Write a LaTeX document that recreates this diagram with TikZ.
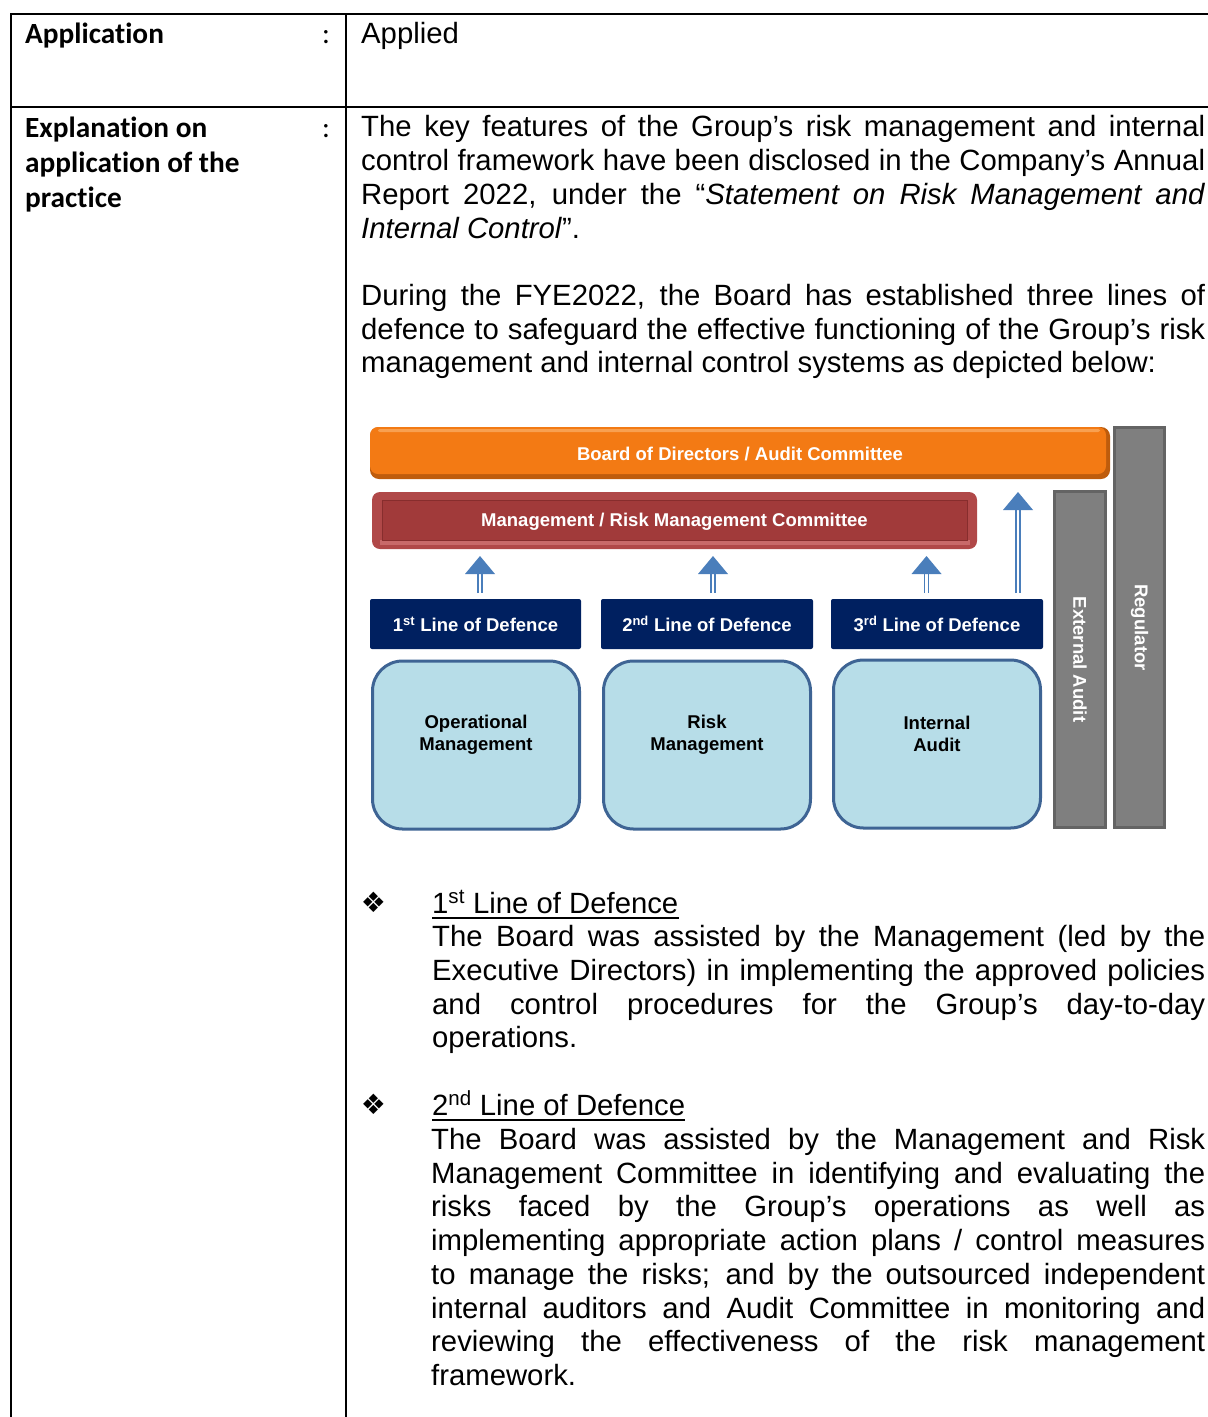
\documentclass[tikz,border=0pt]{standalone}
\usepackage{fontspec}
\setmainfont{Liberation Sans}
\newfontfamily\calib[Ligatures=NoCommon]{Carlito}
\newfontfamily\djv{DejaVu Sans}
\definecolor{cNavy}{RGB}{0,32,96}
\definecolor{cLB}{RGB}{183,221,232}
\definecolor{cLBb}{RGB}{62,100,148}
\definecolor{cGray}{RGB}{127,127,127}
\definecolor{cGrayb}{RGB}{100,100,100}
\definecolor{cArrow}{RGB}{74,126,187}
\definecolor{cOr}{RGB}{243,122,20}
\definecolor{cOrD}{RGB}{190,92,12}
\definecolor{cOrL}{RGB}{248,160,80}
\definecolor{cRed}{RGB}{161,58,58}
\definecolor{cRedO}{RGB}{176,72,72}
\definecolor{cRedD}{RGB}{135,45,45}
\definecolor{cRedL}{RGB}{200,105,105}
\newcommand\bodyfont{\fontsize{29.3}{33.75}\selectfont}
\newcommand\dgfont{\fontsize{18.5}{22}\selectfont\bfseries}
\newcommand\lcfont{\calib\fontsize{29.3}{35}\selectfont}
\begin{document}
\begin{tikzpicture}[x=1pt,y=-1pt,
  tbl/.style={line width=2.5pt, draw=black},
  txt/.style={anchor=base west, inner sep=0pt, font=\bodyfont},
  lcol/.style={anchor=base west, inner sep=0pt, font=\lcfont\bfseries},
  colon/.style={anchor=base, inner sep=0pt, font=\lcfont},
  navybox/.style={fill=cNavy, rounded corners=2pt, minimum width=211pt, minimum height=50pt, inner sep=0pt, text=white, font=\dgfont},
  bluebox/.style={fill=cLB, draw=cLBb, line width=3pt, rounded corners=30pt, minimum width=207pt, minimum height=168pt, inner sep=0pt},
  boxtext/.style={font=\dgfont, align=center, inner sep=0pt},
  graybar/.style={fill=cGray, draw=cGrayb, line width=3pt, inner sep=0pt},
  vtext/.style={rotate=-90, text=white, font=\dgfont, inner sep=0pt},
  bartext/.style={text=white, font=\dgfont, inner sep=0pt},
  shaft/.style={draw=cArrow, line width=1.6pt, double=white, double distance=2.5pt},
  head/.style={fill=cArrow},
  bul/.style={font=\djv\fontsize{28}{28}\selectfont, inner sep=0pt},
  uline/.style={line width=2.5pt}
]
\useasboundingbox (0,0) rectangle (1208,1417);
\fill[white] (0,0) rectangle (1208,1417);

% table rules
\draw[tbl] (10,14) -- (1208,14);
\draw[tbl] (10,107) -- (1208,107);
\draw[tbl] (11,13) -- (11,1417);
\draw[tbl] (346,13) -- (346,1417);

% left column
\node[lcol] (app) at (25,43) {Application};
\node[colon] (c1) at (326,43) {:};
\node[lcol] (ex1) at (25,137) {Explanation on};
\node[lcol] (ex2) at (25,172) {application of the};
\node[lcol] (ex3) at (25,207) {practice};
\node[colon] (c2) at (326,137) {:};

% right column text
\node[txt] (applied) at (361,43) {Applied};

\node[txt] (p1a) at (361,136) {\makebox[844pt][s]{The key features of the Group’s risk management and internal}};
\node[txt] (p1b) at (361,170) {\makebox[844pt][s]{control framework have been disclosed in the Company’s Annual}};
\node[txt] (p1c) at (361,204) {\makebox[844pt][s]{Report 2022, under the “\textit{Statement on Risk Management and}}};
\node[txt] (p1d) at (361,238) {\textit{Internal Control}”.};

\node[txt] (p2a) at (361,305) {\makebox[844pt][s]{During the FYE2022, the Board has established three lines of}};
\node[txt] (p2b) at (361,339) {\makebox[844pt][s]{defence to safeguard the effective functioning of the Group’s risk}};
\node[txt] (p2c) at (361,372) {management and internal control systems as depicted below:};

% ---------- diagram ----------
% orange bar
\fill[cOrD, rounded corners=9pt] (370,427) rectangle (1110,479);
\fill[cOr, rounded corners=8pt] (370,427) rectangle (1106,474);
\fill[cOrL, rounded corners=2pt] (378,429) rectangle (1100,432);
\node[bartext] (board) at (740,454) {Board of Directors / Audit Committee};

% red bar
\fill[cRedO, rounded corners=8pt] (372,492) rectangle (977,549);
\fill[cRedL] (380,540) rectangle (970,545);
\fill[cRed, draw=cRedD, line width=1pt] (382,500) rectangle (967,540);
\node[bartext] (mgmt) at (674.5,522) {Management / Risk Management Committee};

% gray bars
\node[graybar, minimum width=51pt, minimum height=336pt] (ext) at (1080,659.5) {};
\node[graybar, minimum width=50pt, minimum height=400pt] (reg) at (1139.5,627.5) {};
\node[vtext] (extt) at (ext.center) {External Audit};
\node[vtext] (regt) at (reg.center) {Regulator};

% lines of defence
\node[navybox] (l1) at (475.5,624) {1\textsuperscript{st} Line of Defence};
\node[navybox, minimum width=212pt] (l2) at (707,624) {2\textsuperscript{nd} Line of Defence};
\node[navybox, minimum width=212pt] (l3) at (937,624) {3\textsuperscript{rd} Line of Defence};

\node[bluebox] (op) at (476,745) {};
\node[bluebox] (rk) at (707,745) {};
\node[bluebox] (ia) at (937,744) {};
\node[boxtext] (opt) at ([yshift=10pt]op.center) {Operational\\Management};
\node[boxtext] (rkt) at ([yshift=10pt]rk.center) {Risk\\Management};
\node[boxtext] (iat) at ([yshift=10pt]ia.center) {Internal\\Audit};

% arrows
\coordinate (a1s) at (480,593);  \coordinate (a1e) at (480,556);
\coordinate (a2s) at (713,593);  \coordinate (a2e) at (713,556);
\coordinate (a3s) at (926.5,593); \coordinate (a3e) at (926.5,556);
\coordinate (a4s) at (1018,593); \coordinate (a4e) at (1018,492);
\foreach \a in {a1,a2,a3,a4}{
  \draw[shaft] (\a s) -- ([yshift=-17pt]\a e);
  \fill[head] (\a e) -- ++(-15,18) -- ++(30,0) -- cycle;
}

% ---------- bullets ----------
\node[bul] (bu1) at (373.5,902.5) {❖};
\node[txt] (h1) at (432,913) {1\textsuperscript{st} Line of Defence};
\draw[uline] ([yshift=-5pt]h1.base west) -- ([yshift=-5pt]h1.base east);
\node[txt] (b1a) at (432,946) {\makebox[773pt][s]{The Board was assisted by the Management (led by the}};
\node[txt] (b1b) at (432,980) {\makebox[773pt][s]{Executive Directors) in implementing the approved policies}};
\node[txt] (b1c) at (432,1014) {\makebox[773pt][s]{and control procedures for the Group’s day-to-day}};
\node[txt] (b1d) at (432,1047) {operations.};

\node[bul] (bu2) at (373.5,1104.5) {❖};
\node[txt] (h2) at (432,1115) {2\textsuperscript{nd} Line of Defence};
\draw[uline] ([yshift=-5pt]h2.base west) -- ([yshift=-5pt]h2.base east);
\node[txt] (b2a) at (431,1149) {\makebox[774pt][s]{The Board was assisted by the Management and Risk}};
\node[txt] (b2b) at (431,1183) {\makebox[774pt][s]{Management Committee in identifying and evaluating the}};
\node[txt] (b2c) at (431,1216) {\makebox[774pt][s]{risks faced by the Group’s operations as well as}};
\node[txt] (b2d) at (431,1250) {\makebox[774pt][s]{implementing appropriate action plans / control measures}};
\node[txt] (b2e) at (431,1284) {\makebox[774pt][s]{to manage the risks; and by the outsourced independent}};
\node[txt] (b2f) at (431,1318) {\makebox[774pt][s]{internal auditors and Audit Committee in monitoring and}};
\node[txt] (b2g) at (431,1351) {\makebox[774pt][s]{reviewing the effectiveness of the risk management}};
\node[txt] (b2h) at (431,1385) {framework.};
\end{tikzpicture}
\end{document}
